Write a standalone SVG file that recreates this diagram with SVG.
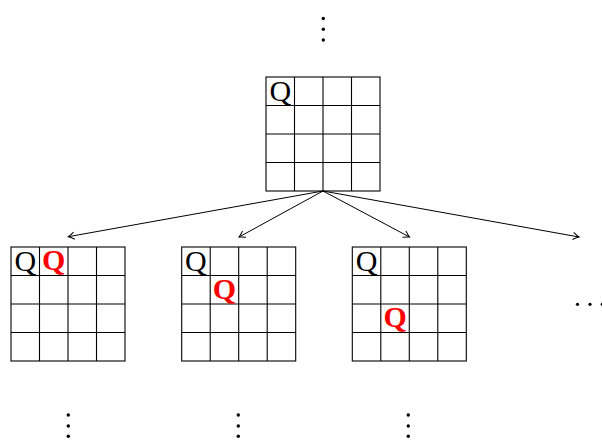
<svg xmlns="http://www.w3.org/2000/svg" width="602" height="440" viewBox="0 0 602 440">
<style>
.q { font-family: "Liberation Serif", "Times New Roman", serif; font-size: 30px; text-anchor: middle; }
.qb { fill: #000; }
.qr { fill: #f00; font-weight: bold; }
.conn line { stroke: #000; stroke-width: 1; marker-end: url(#arr); }
.dot { fill: #000; }
</style>
<defs>
<marker id="arr" markerUnits="userSpaceOnUse" markerWidth="12" markerHeight="12" viewBox="-8 -6 10 12" refX="0" refY="0" orient="auto">
<path d="M -6 -3.6 Q -2 -0.8 0 0 Q -2 0.8 -6 3.6" fill="none" stroke="#000" stroke-width="1"/>
</marker>
<g id="board" fill="none" stroke="#000" stroke-width="1.1">
<rect x="0" y="0" width="114" height="114"/>
<line x1="28.5" y1="0" x2="28.5" y2="114"/>
<line x1="57" y1="0" x2="57" y2="114"/>
<line x1="85.5" y1="0" x2="85.5" y2="114"/>
<line x1="0" y1="28.5" x2="114" y2="28.5"/>
<line x1="0" y1="57" x2="114" y2="57"/>
<line x1="0" y1="85.5" x2="114" y2="85.5"/>
</g>
</defs>

<g id="dots-top">
<circle class="dot" cx="323.3" cy="18.5" r="1.7"/>
<circle class="dot" cx="323.3" cy="29.3" r="1.7"/>
<circle class="dot" cx="323.3" cy="40" r="1.7"/>
</g>

<g id="root">
<use href="#board" x="266" y="77"/>
<text class="q qb" x="280.25" y="101">Q</text>
</g>

<g id="connectors" class="conn">
<line x1="323" y1="191" x2="68.3" y2="236.7"/>
<line x1="323" y1="191" x2="239" y2="237"/>
<line x1="323" y1="191" x2="409.5" y2="237"/>
<line x1="323" y1="191" x2="579" y2="237"/>
</g>

<g id="child1">
<use href="#board" x="11" y="247"/>
<text class="q qb" x="25.25" y="271">Q</text>
<text class="q qr" x="53.75" y="270">Q</text>
</g>

<g id="child2">
<use href="#board" x="181.7" y="247"/>
<text class="q qb" x="195.95" y="271">Q</text>
<text class="q qr" x="224.45" y="298.5">Q</text>
</g>

<g id="child3">
<use href="#board" x="352.3" y="247"/>
<text class="q qb" x="366.55" y="271">Q</text>
<text class="q qr" x="395.05" y="327">Q</text>
</g>

<g id="hdots">
<circle class="dot" cx="577.5" cy="304.3" r="1.6"/>
<circle class="dot" cx="590" cy="304.3" r="1.6"/>
<circle class="dot" cx="602.3" cy="304.3" r="1.6"/>
</g>

<g id="dots-bottom">
<circle class="dot" cx="68.3" cy="415" r="1.7"/>
<circle class="dot" cx="68.3" cy="426" r="1.7"/>
<circle class="dot" cx="68.3" cy="436.3" r="1.7"/>
<circle class="dot" cx="238.3" cy="415" r="1.7"/>
<circle class="dot" cx="238.3" cy="426" r="1.7"/>
<circle class="dot" cx="238.3" cy="436.3" r="1.7"/>
<circle class="dot" cx="408.3" cy="415" r="1.7"/>
<circle class="dot" cx="408.3" cy="426" r="1.7"/>
<circle class="dot" cx="408.3" cy="436.3" r="1.7"/>
</g>
</svg>
